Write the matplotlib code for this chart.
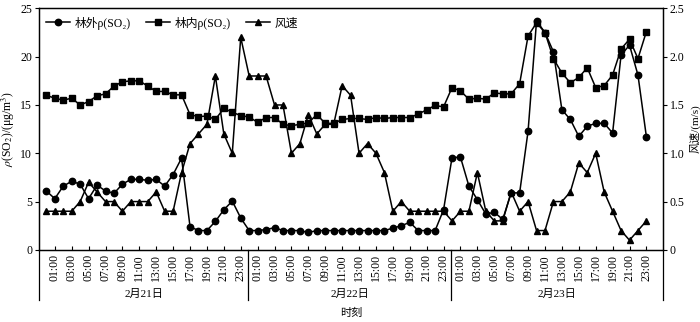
import numpy as np
import matplotlib
matplotlib.use("Agg")
import matplotlib.pyplot as plt
import matplotlib.transforms as mtransforms

plt.rcParams['font.family'] = ['Liberation Serif', 'Noto Sans CJK SC', 'DejaVu Serif']
plt.rcParams['mathtext.fontset'] = 'stix'
plt.rcParams['font.size'] = 8.5

# hourly values, 2/21 00:00 .. 2/23 23:00
so2_out = [6.1, 5.3, 6.6, 7.1, 6.8, 5.3, 6.7, 6.1, 5.85, 6.8, 7.3, 7.3,
           7.2, 7.3, 6.6, 7.8, 9.5, 2.4, 2.0, 2.0, 2.95, 4.15, 5.05, 3.3,
           2.0, 2.0, 2.1, 2.3, 2.0, 2.0, 2.0, 1.8, 2.0, 2.0, 2.0, 2.0,
           2.0, 2.0, 2.0, 2.0, 2.0, 2.25, 2.5, 2.85, 2.0, 2.0, 2.0, 4.15,
           9.55, 9.6, 6.6, 5.2, 3.7, 3.9, 3.15, 5.9, 5.9, 12.3, 23.7, 22.5,
           20.5, 14.5, 13.5, 11.75, 12.8, 13.1, 13.1, 12.1, 20.15, 21.2, 18.1, 11.7]

so2_in = [16.0, 15.7, 15.5, 15.7, 15.0, 15.35, 15.95, 16.15, 16.95, 17.4, 17.5, 17.5,
          16.95, 16.4, 16.4, 16.05, 16.05, 14.0, 13.8, 13.85, 13.5, 14.65, 14.25, 13.9,
          13.75, 13.2, 13.7, 13.7, 13.0, 12.85, 13.0, 13.15, 14.0, 13.1, 13.1, 13.5,
          13.6, 13.6, 13.5, 13.7, 13.6, 13.7, 13.7, 13.7, 14.05, 14.5, 14.95, 14.8,
          16.8, 16.45, 15.6, 15.7, 15.6, 16.25, 16.15, 16.15, 17.2, 22.15, 23.5, 22.5,
          19.8, 18.3, 17.3, 17.85, 18.85, 16.8, 17.0, 18.1, 20.8, 21.8, 19.8, 22.6]

wind = [0.4, 0.4, 0.4, 0.4, 0.5, 0.7, 0.6, 0.5, 0.5, 0.4, 0.5, 0.5,
        0.5, 0.6, 0.4, 0.4, 0.8, 1.1, 1.2, 1.3, 1.8, 1.2, 1.0, 2.2,
        1.8, 1.8, 1.8, 1.5, 1.5, 1.0, 1.1, 1.4, 1.2, 1.3, 1.3, 1.7,
        1.6, 1.0, 1.1, 1.0, 0.8, 0.4, 0.5, 0.4, 0.4, 0.4, 0.4, 0.4,
        0.3, 0.4, 0.4, 0.8, 0.4, 0.3, 0.3, 0.6, 0.4, 0.5, 0.2, 0.2,
        0.5, 0.5, 0.6, 0.9, 0.8, 1.0, 0.6, 0.4, 0.2, 0.1, 0.2, 0.3]

days = ['2月21日', '2月22日', '2月23日']
hour_labels = ['%02d:00' % h for h in range(1, 24, 2)]

x = np.arange(len(so2_out))

fig = plt.figure(figsize=(7, 3.22), dpi=100)
ax = fig.add_axes([0.0557, 0.224, 0.8914, 0.750])
ax2 = ax.twinx()

kw = dict(color='black', lw=1.1, markeredgecolor='black', markerfacecolor='black')
l1, = ax.plot(x, so2_out, marker='o', ms=4.6, label='林外ρ(SO₂)', **kw)
l2, = ax.plot(x, so2_in, marker='s', ms=4.2, label='林内ρ(SO₂)', **kw)
l3, = ax2.plot(x, wind, marker='^', ms=5.0, label='风速', **kw)

ax.set_xlim(-0.87, 72.96)
ax.set_ylim(0, 25)
ax2.set_ylim(0, 2.5)
ax.set_yticks(range(0, 26, 5))
ax2.set_yticks([0, 0.5, 1.0, 1.5, 2.0, 2.5])
ax2.set_yticklabels(['0', '0.5', '1.0', '1.5', '2.0', '2.5'])

ticks = [d * 24 + h for d in range(3) for h in range(1, 24, 2)]
ax.set_xticks(ticks)
ax.set_xticklabels(hour_labels * 3, rotation=90, va='top')
ax.tick_params(axis='x', direction='in', length=3, pad=3)
ax.tick_params(axis='y', direction='out', length=3, pad=2)
ax2.tick_params(axis='y', direction='out', length=3, pad=2)

for a in (ax, ax2):
    for s in a.spines.values():
        s.set_linewidth(0.9)

ax.set_ylabel(r'$\rho$(SO$_2$)/(μg/m$^3$)', labelpad=2)
ax2.set_ylabel('风速/(m/s)', labelpad=3, fontsize=8)

# day grouping below the hour labels
trans = mtransforms.blended_transform_factory(ax.transData, ax.transAxes)
bounds = [-0.87, 23.9, 47.9, 72.96]
for xs in bounds:
    ax.plot([xs, xs], [0, -0.207], transform=trans, color='black', lw=0.9, clip_on=False)
for i, d in enumerate(days):
    ax.text((bounds[i] + bounds[i + 1]) / 2, -0.182, d, transform=trans,
            ha='center', va='center', fontsize=8)
ax.text(0.5, -0.262, '时刻', transform=ax.transAxes, ha='center', va='center', fontsize=8)

ax.legend(handles=[l1, l2, l3], loc='upper left', bbox_to_anchor=(-0.005, 1.01), ncol=3,
          frameon=False, handlelength=2.0, columnspacing=1.3, handletextpad=0.4, fontsize=8.5)

fig.savefig('out.png', dpi=100)
